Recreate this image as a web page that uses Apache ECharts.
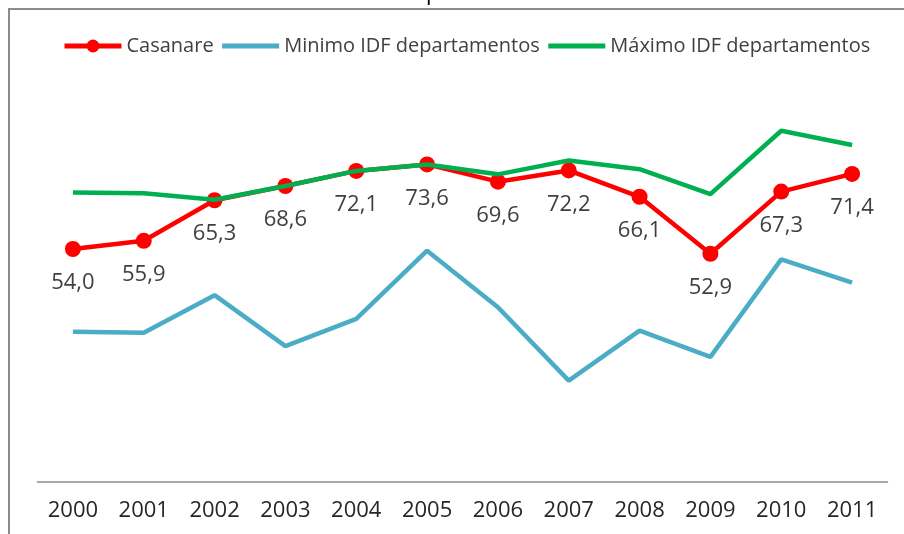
<!DOCTYPE html>
<html>
<head>
  <meta charset="utf-8" />
  <title>IDF Casanare</title>
  <script src="https://cdn.jsdelivr.net/npm/echarts@6/dist/echarts.min.js"></script>
  <style>
    html, body { margin: 0; padding: 0; background: #fff; }
  </style>
</head>
<body>
<div id="main" style="width: 904px;height:534px;"></div>
<script type="text/javascript">
  // datos
  var years = ['2000', '2001', '2002', '2003', '2004', '2005', '2006', '2007', '2008', '2009', '2010', '2011'];
  var casanare = [54.0, 55.9, 65.3, 68.6, 72.1, 73.6, 69.6, 72.2, 66.1, 52.9, 67.3, 71.4];
  var minimoIDF = [34.8, 34.6, 43.3, 31.5, 37.8, 53.6, 40.5, 23.5, 35.1, 29.0, 51.6, 46.2];
  var maximoIDF = [67.1, 66.9, 65.4, 68.6, 72.1, 73.6, 71.3, 74.5, 72.5, 66.7, 81.4, 78.1];

  var myChart = echarts.init(document.getElementById('main'));
  var font = 'Open Sans';

  var option = {
    animation: false,
    backgroundColor: '#fff',
    graphic: [
      {
        type: 'rect',
        shape: { x: 9, y: 9, width: 1000, height: 1000 },
        style: { fill: 'none', stroke: '#8c8c8c', lineWidth: 2 },
        silent: true
      },
      {
        type: 'text',
        style: { text: 'p', x: 426, y: 5, fontSize: 22, fontFamily: font, fill: '#000', verticalAlign: 'bottom' },
        silent: true
      }
    ],
    legend: {
      top: 31,
      left: 57,
      itemWidth: 57,
      itemHeight: 16,
      itemGap: 6,
      lineStyle: { width: 5 },
      textStyle: { fontFamily: font, fontSize: 20, color: '#404040' },
      data: [
        { name: 'Casanare' },
        { name: 'Minimo IDF departamentos', itemStyle: { opacity: 0 } },
        { name: 'Máximo IDF departamentos', itemStyle: { opacity: 0 } }
      ]
    },
    grid: {
      left: 37.5,
      right: 16.5,
      top: 50.5,
      bottom: 52,
      containLabel: false
    },
    xAxis: {
      type: 'category',
      data: years,
      boundaryGap: true,
      axisTick: { show: false },
      axisLine: { lineStyle: { color: '#8c8c8c', width: 1.5 } },
      axisLabel: { margin: 18, fontFamily: font, fontSize: 22, color: '#262626' }
    },
    yAxis: {
      type: 'value',
      min: 0,
      max: 100,
      show: false,
      splitLine: { show: false }
    },
    series: [
      {
        name: 'Minimo IDF departamentos',
        type: 'line',
        data: minimoIDF,
        symbol: 'none',
        lineStyle: { color: '#4BACC6', width: 4.5 },
        itemStyle: { color: '#4BACC6' },
        z: 1
      },
      {
        name: 'Máximo IDF departamentos',
        type: 'line',
        data: maximoIDF,
        symbol: 'none',
        lineStyle: { color: '#00B050', width: 4.5 },
        itemStyle: { color: '#00B050' },
        z: 3
      },
      {
        name: 'Casanare',
        type: 'line',
        data: casanare,
        symbol: 'circle',
        symbolSize: 16,
        lineStyle: { color: '#FF0000', width: 4.5 },
        itemStyle: { color: '#FF0000' },
        label: {
          show: true,
          position: 'bottom',
          distance: 15,
          fontFamily: font,
          fontSize: 22,
          color: '#404040',
          formatter: function (p) {
            return p.value.toFixed(1).replace('.', ',');
          }
        },
        z: 2
      }
    ]
  };

  option && myChart.setOption(option);
</script>
</body>
</html>
